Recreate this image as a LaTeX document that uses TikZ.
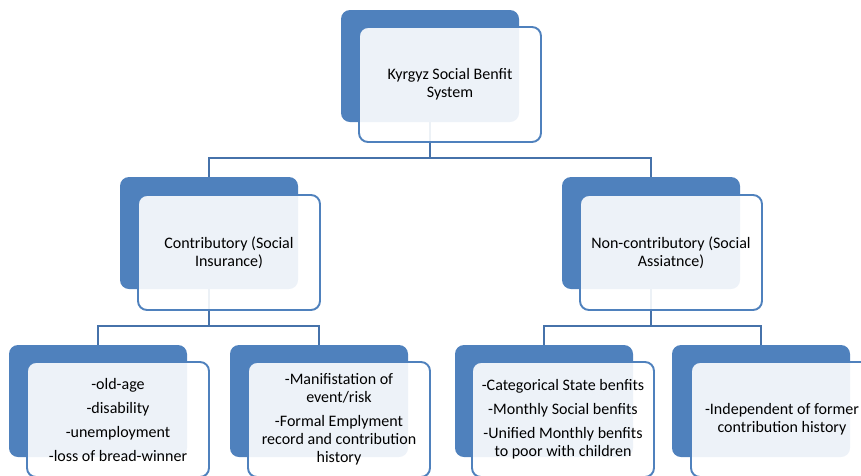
\documentclass[tikz,border=0pt]{standalone}
\usepackage{fontspec}
\setmainfont{Carlito}
\definecolor{tileblue}{RGB}{79,129,189}
\definecolor{linkblue}{RGB}{70,114,170}
\definecolor{cardfill}{RGB}{255,255,255}
\begin{document}
\begin{tikzpicture}[x=1pt,y=-1pt,
  backtile/.style={fill=tileblue, draw=none, rounded corners=9pt,
    minimum width=178pt, minimum height=112pt, anchor=north west, inner sep=0pt, outer sep=0pt},
  card/.style={fill=cardfill, fill opacity=0.9, text opacity=1, draw=tileblue,
    line width=1.9pt, rounded corners=9pt, minimum width=182pt, minimum height=115pt,
    anchor=north west, inner sep=0pt, outer sep=0pt, align=center,
    font=\fontsize{16}{18}\selectfont},
  link/.style={draw=linkblue, line width=2pt}]
\useasboundingbox (0,0) rectangle (861,475);
% back tiles
\node[backtile] (b0) at (341,10) {};
\node[backtile] (b1) at (120,177) {};
\node[backtile] (b2) at (562,177) {};
\node[backtile] (b3) at (9,345) {};
\node[backtile] (b4) at (230,345) {};
\node[backtile] (b5) at (455,345) {};
\node[backtile] (b6) at (672,345) {};
% junction points of the tree
\coordinate (j0) at (430,158);
\coordinate (j1) at (209,326);
\coordinate (j2) at (651,326);
% connectors
\draw[link] (b0.south) -- (j0);
\draw[link] (j0) -| (b1.north);
\draw[link] (j0) -| (b2.north);
\draw[link] (b1.south) -- (j1);
\draw[link] (j1) -| (b3.north);
\draw[link] (j1) -| (b4.north);
\draw[link] (b2.south) -- (j2);
\draw[link] (j2) -| (b5.north);
\draw[link] (j2) -| (b6.north);
% front cards
\node[card] (f0) at (359,27) {Kyrgyz Social Benfit\\System};
\node[card] (f1) at (138,195) {Contributory (Social\\Insurance)};
\node[card] (f2) at (580,195) {Non-contributory (Social\\Assiatnce)};
\node[card] (f3) at (27,362) {-old-age\\[6pt]-disability\\[6pt]-unemployment\\[6pt]-loss of bread-winner};
\node[card] (f4) at (248,362) {-Manifistation of\\event/risk\\[6pt]-Formal Emplyment\\record and contribution\\history};
\node[card] (f5) at (472,362) {-Categorical State benfits\\[6pt]-Monthly Social benfits\\[6pt]-Unified Monthly benfits\\to poor with children};
\node[card] (f6) at (691,362) {-Independent of former\\contribution history};
\end{tikzpicture}
\end{document}
